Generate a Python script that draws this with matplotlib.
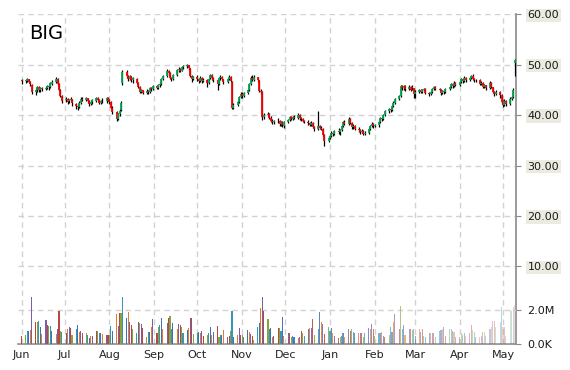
import numpy as np
import pandas as pd
import matplotlib
matplotlib.use('Agg')
import matplotlib.pyplot as plt
import matplotlib.dates as mdates
from matplotlib.colors import to_rgba

# Daily OHLC (USD) and volume (millions), Jun 1 2012 - May 9 2013, one row per month
opens = [
    47.0, 46.7, 46.8, 47.1, 46.6, 46.0, 44.6, 44.9, 45.5, 44.9, 45.3, 45.1, 45.3, 45.7, 45.5, 46.2, 46.6, 47.2, 46.2, 45.0, 43.8,
    42.9, 43.2, 42.7, 42.9, 43.1, 42.3, 41.8, 41.7, 42.5, 43.2, 43.0, 43.3, 42.8, 42.3, 42.6, 42.8, 43.3, 43.0, 42.5, 42.8, 42.7, 43.3,
    43.0, 42.6, 41.5, 40.6, 39.3, 40.2, 41.0, 46.3, 48.5, 47.8, 47.2, 47.7, 46.9, 47.2, 46.4, 45.6, 44.6, 44.9, 44.4, 44.8, 44.5, 45.3, 45.1,
    45.8, 45.4, 45.9, 46.2, 47.1, 47.8, 48.8, 48.3, 47.4, 47.2, 48.0, 48.9, 49.2, 48.8, 49.5, 49.7, 49.9, 49.3, 47.8, 47.2,
    47.5, 47.1, 46.8, 47.4, 46.7, 47.0, 46.4, 47.3, 48.0, 47.3, 46.9, 46.2, 47.3, 47.6, 47.1, 46.5, 47.2, 47.6, 46.6, 41.5, 42.0, 42.6, 43.6,
    44.2, 43.8, 44.3, 45.0, 46.2, 47.4, 47.0, 47.5, 46.9, 44.8, 44.5, 39.6, 40.1, 40.3, 39.5, 38.9, 38.6, 38.8, 38.9, 38.2, 38.6, 37.9,
    38.7, 39.0, 39.6, 39.3, 39.7, 39.5, 40.1, 39.4, 39.2, 38.9, 38.7, 38.4, 38.0, 38.5, 37.6, 37.2, 37.8, 37.5, 37.3, 36.1, 34.9,
    35.5, 35.9, 36.5, 36.2, 36.9, 36.6, 37.0, 37.9, 38.6, 38.3, 39.2, 38.4, 37.6, 37.9, 37.3, 37.0, 36.6, 36.9, 36.3, 36.5, 37.2, 37.8, 38.3,
    37.8, 38.1, 38.6, 39.4, 39.2, 40.1, 40.8, 41.2, 41.0, 41.9, 42.5, 43.1, 43.8, 45.7, 45.3, 45.8, 45.1, 45.6, 45.5, 45.3,
    44.2, 44.6, 44.9, 44.5, 45.0, 45.2, 44.4, 44.1, 44.6, 45.1, 45.5, 45.2, 45.0, 44.3, 44.7, 44.6, 45.1, 45.6, 46.1, 45.7, 46.3,
    46.0, 46.5, 47.1, 46.7, 47.3, 46.9, 47.4, 47.8, 47.2, 46.9, 47.0, 46.2, 46.4, 45.6, 45.9, 45.4, 46.3, 45.5, 44.6, 44.1, 44.5, 44.0,
    42.6, 42.1, 42.8, 42.3, 43.2, 43.6, 50.4,
]
highs = [
    47.2, 47.1, 47.3, 47.2, 46.8, 46.2, 45.4, 45.8, 45.7, 45.5, 45.6, 45.7, 45.9, 45.9, 46.5, 46.9, 47.5, 47.3, 46.4, 45.2, 44.0,
    43.6, 43.3, 43.1, 43.6, 43.2, 42.5, 42.2, 42.8, 43.5, 43.5, 43.6, 43.4, 43.0, 42.9, 43.1, 43.6, 43.5, 43.2, 43.0, 43.3, 43.6, 43.5,
    43.2, 42.8, 41.8, 40.9, 40.5, 41.2, 42.8, 49.0, 48.9, 48.0, 47.9, 47.8, 47.6, 47.3, 46.6, 45.8, 45.2, 45.0, 45.1, 45.0, 45.6, 45.5, 46.0,
    46.0, 46.2, 46.5, 47.4, 48.0, 49.2, 48.9, 48.5, 47.6, 48.1, 49.1, 49.5, 49.4, 49.8, 50.0, 50.1, 50.0, 49.4, 48.0, 47.8,
    47.9, 47.4, 47.7, 47.6, 47.3, 47.2, 47.4, 48.2, 48.1, 47.5, 47.1, 47.5, 47.9, 47.8, 47.2, 47.4, 47.9, 47.7, 46.7, 42.4, 42.9, 43.8, 44.6,
    44.5, 44.6, 45.2, 46.4, 47.7, 47.9, 47.9, 47.6, 47.0, 45.2, 44.7, 40.5, 40.7, 40.5, 39.8, 39.2, 39.1, 39.4, 39.0, 38.9, 38.8, 38.9,
    39.3, 39.9, 39.8, 39.9, 40.0, 40.5, 40.3, 39.7, 39.4, 39.1, 39.0, 38.6, 38.8, 38.6, 37.9, 40.8, 38.1, 37.8, 37.4, 36.2, 35.8,
    36.2, 36.8, 36.7, 37.1, 37.5, 37.2, 38.1, 38.8, 39.1, 39.7, 39.4, 38.6, 38.2, 38.0, 37.6, 37.2, 37.2, 37.0, 36.8, 37.5, 38.1, 38.7, 38.5,
    38.3, 38.8, 39.6, 39.7, 40.3, 41.0, 41.5, 41.4, 42.1, 42.7, 43.3, 44.0, 46.0, 46.0, 46.0, 45.9, 45.9, 45.8, 46.0, 45.4,
    45.0, 45.2, 45.1, 45.2, 45.4, 45.3, 44.6, 44.8, 45.3, 45.8, 45.7, 45.4, 45.1, 44.9, 44.9, 45.3, 45.8, 46.4, 46.3, 46.7, 46.5,
    46.7, 47.4, 47.3, 47.7, 47.5, 47.6, 48.0, 48.1, 47.4, 47.2, 47.1, 46.7, 46.5, 46.2, 46.0, 46.7, 46.5, 45.6, 44.8, 45.0, 44.7, 44.1,
    43.0, 43.2, 43.0, 43.5, 43.8, 45.3, 51.2,
]
lows = [
    46.2, 46.3, 46.5, 46.3, 45.8, 44.2, 44.0, 44.6, 44.5, 44.6, 44.8, 44.9, 45.1, 45.0, 45.3, 45.9, 46.3, 46.0, 44.8, 43.6, 42.5,
    42.6, 42.3, 42.4, 42.7, 41.8, 41.3, 41.0, 41.5, 42.3, 42.7, 42.8, 42.5, 41.8, 42.0, 42.3, 42.6, 42.7, 42.3, 42.3, 42.4, 42.4, 42.7,
    42.3, 41.2, 40.3, 38.8, 39.0, 39.8, 40.8, 46.0, 47.4, 46.8, 46.9, 46.5, 46.4, 46.1, 45.3, 44.3, 44.3, 44.1, 44.2, 44.2, 44.4, 44.8, 45.0,
    45.1, 45.2, 45.6, 46.0, 46.9, 47.6, 48.0, 47.1, 46.8, 47.0, 47.8, 48.6, 48.5, 48.7, 49.2, 49.4, 49.0, 47.5, 46.6, 46.9,
    46.8, 46.4, 46.6, 46.4, 46.5, 45.6, 46.2, 47.1, 47.0, 46.6, 45.0, 46.0, 47.0, 46.9, 46.2, 46.3, 47.0, 46.5, 41.2, 41.2, 41.8, 42.4, 43.4,
    43.3, 43.6, 44.1, 44.8, 46.0, 46.7, 46.8, 46.6, 44.5, 44.1, 39.1, 39.3, 39.8, 39.2, 38.6, 38.2, 38.3, 38.5, 37.9, 37.9, 37.7, 37.5,
    38.5, 38.8, 39.0, 39.1, 39.2, 39.3, 39.1, 38.8, 38.6, 38.4, 38.0, 37.8, 37.8, 37.4, 36.8, 37.0, 37.2, 37.0, 35.8, 33.9, 34.6,
    35.2, 35.6, 35.9, 36.0, 36.3, 36.1, 36.8, 37.6, 38.1, 38.1, 38.2, 37.2, 37.3, 37.0, 36.7, 36.3, 36.4, 36.0, 36.1, 36.3, 37.0, 37.6, 37.5,
    37.6, 37.7, 38.4, 38.9, 39.0, 39.9, 40.5, 40.6, 40.9, 41.7, 42.3, 42.9, 43.6, 45.0, 45.0, 44.8, 44.9, 44.7, 45.0, 43.3,
    43.4, 44.3, 44.3, 44.3, 44.7, 44.2, 43.8, 43.9, 44.4, 44.9, 44.9, 44.7, 44.0, 44.1, 44.2, 44.4, 44.9, 45.4, 45.4, 45.5, 45.7,
    45.8, 46.3, 46.4, 46.5, 46.6, 46.7, 47.2, 47.0, 46.6, 46.6, 45.9, 45.9, 45.3, 45.4, 45.0, 45.2, 45.3, 44.3, 43.7, 43.9, 43.4, 42.3,
    41.7, 41.9, 41.8, 42.0, 42.9, 43.4, 47.8,
]
closes = [
    46.8, 46.9, 47.1, 46.6, 46.1, 44.5, 45.0, 45.6, 44.9, 45.3, 45.1, 45.4, 45.7, 45.5, 46.3, 46.6, 47.2, 46.2, 45.0, 43.8, 42.8,
    43.2, 42.6, 42.9, 43.1, 42.4, 41.8, 41.6, 42.5, 43.2, 43.0, 43.3, 42.8, 42.3, 42.6, 42.9, 43.3, 43.0, 42.5, 42.8, 42.7, 43.3, 43.0,
    42.6, 41.5, 40.6, 39.3, 40.2, 40.9, 42.4, 48.6, 47.8, 47.2, 47.7, 46.9, 47.3, 46.4, 45.6, 44.6, 44.9, 44.4, 44.8, 44.5, 45.3, 45.1, 45.8,
    45.4, 45.9, 46.2, 47.1, 47.7, 48.8, 48.3, 47.4, 47.1, 47.9, 48.9, 49.2, 48.8, 49.5, 49.7, 49.9, 49.3, 47.8, 47.2, 47.5,
    47.1, 46.8, 47.4, 46.7, 47.0, 46.4, 47.2, 48.0, 47.3, 46.9, 46.2, 47.3, 47.6, 47.1, 46.5, 47.2, 47.6, 46.8, 41.5, 42.0, 42.6, 43.6, 44.2,
    43.8, 44.3, 45.0, 46.2, 47.4, 47.0, 47.5, 46.9, 44.8, 44.5, 39.6, 40.1, 40.3, 39.5, 38.9, 38.6, 38.8, 38.9, 38.2, 38.6, 38.0, 38.7,
    39.0, 39.6, 39.3, 39.7, 39.5, 40.1, 39.4, 39.2, 38.9, 38.7, 38.4, 38.0, 38.5, 37.6, 37.2, 37.8, 37.5, 37.3, 36.1, 34.9, 35.5,
    35.9, 36.5, 36.2, 36.9, 36.6, 37.0, 37.9, 38.6, 38.3, 39.2, 38.4, 37.6, 37.9, 37.3, 37.0, 36.6, 36.9, 36.3, 36.5, 37.2, 37.8, 38.3, 37.8,
    38.1, 38.6, 39.4, 39.2, 40.1, 40.8, 41.2, 41.0, 41.9, 42.5, 43.1, 43.8, 45.7, 45.3, 45.8, 45.1, 45.6, 45.0, 45.3, 44.2,
    44.6, 44.9, 44.5, 45.0, 45.2, 44.4, 44.1, 44.6, 45.1, 45.5, 45.2, 45.0, 44.3, 44.7, 44.6, 45.1, 45.6, 46.1, 45.7, 46.3, 46.0,
    46.5, 47.1, 46.7, 47.3, 46.9, 47.4, 47.8, 47.2, 46.9, 47.0, 46.2, 46.4, 45.6, 45.9, 45.4, 46.3, 45.5, 44.6, 44.1, 44.5, 44.0, 42.6,
    42.1, 42.8, 42.3, 43.2, 43.6, 44.9, 51.0,
]
volumes = [
    0.5, 0.53, 0.76, 0.78, 0.82, 2.78, 1.29, 1.29, 1.35, 1.02, 0.6, 1.41, 1.12, 1.06, 1.06, 0.78, 0.59, 0.86, 1.94, 0.78, 0.7,
    0.67, 0.88, 1.02, 0.92, 0.53, 0.88, 1.12, 0.73, 0.78, 0.67, 0.63, 0.53, 0.33, 0.47, 0.5, 0.76, 0.76, 0.67, 0.63, 0.57, 0.53, 0.53,
    0.53, 1.06, 0.78, 1.76, 1.06, 1.8, 1.84, 2.78, 1.51, 1.9, 1.31, 1.12, 0.88, 0.63, 1.27, 1.22, 1.18, 0.92, 0.39, 0.73, 0.73, 1.02, 1.45,
    0.63, 1.02, 1.12, 1.55, 0.9, 1.25, 1.51, 1.65, 0.86, 1.22, 0.86, 1.18, 1.12, 1.02, 0.67, 0.82, 0.92, 1.51, 1.55, 0.59,
    0.67, 0.73, 0.63, 0.76, 0.5, 0.53, 0.67, 1.02, 0.53, 0.73, 1.06, 0.43, 0.53, 0.53, 0.82, 0.43, 0.47, 0.76, 1.94, 0.43, 0.53, 0.92, 0.53,
    0.53, 0.4, 0.82, 0.73, 0.59, 0.45, 0.24, 0.98, 1.22, 2.1, 2.78, 1.96, 1.45, 0.86, 0.92, 0.4, 0.45, 0.92, 0.92, 0.78, 1.61, 0.5,
    0.63, 0.63, 0.39, 0.45, 0.4, 0.33, 0.43, 0.76, 0.67, 0.45, 0.86, 0.92, 0.92, 1.47, 0.55, 0.86, 1.9, 1.31, 1.16, 0.6, 0.98,
    0.78, 0.92, 0.63, 0.45, 0.33, 0.43, 0.47, 0.63, 0.4, 0.86, 0.78, 0.86, 0.73, 0.67, 0.67, 0.67, 0.63, 0.43, 0.67, 0.92, 0.86, 1.16, 0.86,
    0.45, 0.67, 0.67, 0.73, 0.47, 0.4, 0.53, 0.98, 0.73, 1.31, 1.76, 0.86, 2.24, 0.86, 1.12, 0.53, 0.86, 0.86, 0.82, 0.86,
    0.5, 0.86, 0.73, 0.86, 0.45, 0.4, 0.67, 0.67, 0.67, 0.63, 0.4, 0.78, 0.82, 0.86, 0.98, 0.45, 0.86, 0.86, 0.78, 0.73, 0.4,
    0.43, 0.67, 0.53, 0.63, 0.45, 0.63, 1.12, 0.82, 0.73, 0.4, 0.43, 0.47, 0.73, 0.73, 0.45, 0.86, 1.02, 1.37, 1.37, 0.98, 1.31, 2.16,
    1.02, 1.02, 0.5, 2.0, 1.96, 2.2, 2.3,
]
months = ['Jun', 'Jul', 'Aug', 'Sep', 'Oct', 'Nov', 'Dec', 'Jan', 'Feb', 'Mar', 'Apr', 'May']
price_ticks = [10, 20, 30, 40, 50, 60]
vol_ticks = [0, 2]
vol_labels = ['0.0K', '2.0M']
ticker = 'BIG'

dates = pd.bdate_range('2012-06-01', '2013-05-09')
for name, arr in [('opens', opens), ('highs', highs), ('lows', lows), ('closes', closes), ('volumes', volumes)]:
    if len(arr) != len(dates):
        raise SystemExit('%s has %d values, expected %d' % (name, len(arr), len(dates)))

x = mdates.date2num(dates)
o = np.array(opens)
h = np.array(highs)
l = np.array(lows)
c = np.array(closes)
v = np.array(volumes)

W, H = 570, 370
left, right, top, bottom = 18, 515.7, 14.3, 344
grid_kw = dict(color='#d2d2d2', linestyle=(0, (4, 3)), linewidth=1)
axis_col = '#8a8a8a'

fig = plt.figure(figsize=(W / 100, H / 100), dpi=100)
ax = fig.add_axes([left / W, 1 - bottom / H, (right - left) / W, (bottom - top) / H])
ax2 = ax.twinx()  # volume pane (twinx resets ax ticks, so set up ax after this)

x0 = mdates.date2num(pd.Timestamp('2012-06-01'))
ax.set_xlim(x0 - 2.43, x0 + 342.8)
ax.set_ylim(-(bottom - 316.7) / 5.04, 60)

# candles: black wick, thin coloured body
ax.vlines(x, l, h, color='black', linewidth=0.9, zorder=3)
body_col = np.where(c > o, '#00a850', np.where(c < o, '#ff0000', 'black'))
ax.vlines(x, np.minimum(o, c), np.maximum(o, c), colors=body_col, linewidth=1.3, zorder=4)

# month gridlines / labels
month_starts = pd.date_range('2012-06-01', '2013-05-01', freq='MS')
ax.set_xticks(mdates.date2num(month_starts))
ax.set_xticklabels(months)
ax.tick_params(axis='x', length=0, pad=4, labelsize=8, labelcolor='#222222')
ax.xaxis.grid(True, **grid_kw)

ax.yaxis.tick_right()
ax.yaxis.set_label_position('right')
ax.set_yticks(price_ticks)
ax.set_yticklabels(['%.2f' % t for t in price_ticks])
ax.tick_params(axis='y', length=3.5, color=axis_col, pad=5, labelsize=8, labelcolor='#1a1a1a')
ax.yaxis.grid(True, **grid_kw)
ax.set_axisbelow(True)
for t in ax.get_yticklabels():
    t.set_bbox(dict(boxstyle='square,pad=0.15', facecolor='#ecebe0', edgecolor='none'))

for s in ['top', 'left']:
    ax.spines[s].set_visible(False)
for s in ['bottom', 'right']:
    ax.spines[s].set_color(axis_col)
    ax.spines[s].set_linewidth(1.2)

# volume bars, colours cycle and fade toward the right
ax2.set_ylim(0, 2 * (bottom - top) / 34.0)
palette = ['#b5483f', '#86a33f', '#3596b5', '#4470b0', '#e07b30', '#7b5ea7']
n = len(v)
fade = np.clip(1 - (np.arange(n) - 125) / (n - 125) * 0.72, 0.28, 1)
bar_cols = []
for i in range(n):
    r, g, b, _ = to_rgba(palette[i % len(palette)])
    bar_cols.append((r, g, b, fade[i]))
ax2.bar(x, v, width=0.75, color=bar_cols, linewidth=0, zorder=2)
ax2.set_yticks(vol_ticks)
ax2.set_yticklabels(vol_labels)
ax2.tick_params(axis='y', length=3.5, color=axis_col, pad=5, labelsize=8, labelcolor='#1a1a1a')
ax2.yaxis.grid(True, **grid_kw)
for s in ax2.spines.values():
    s.set_visible(False)

fig.text(29 / W, 1 - 39 / H, ticker, fontsize=14, ha='left', va='baseline', color='black')

fig.savefig('out.png', dpi=100)
